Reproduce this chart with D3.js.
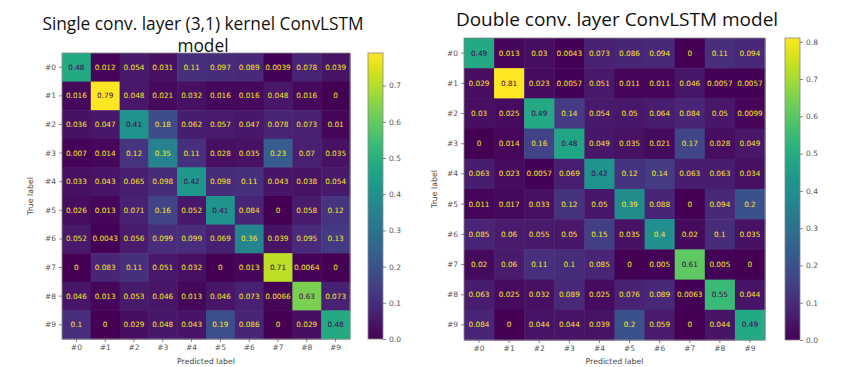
<!DOCTYPE html>
<html><head><meta charset="utf-8">
<script src="https://cdn.jsdelivr.net/npm/d3@7"></script>
<style>html,body{margin:0;padding:0;background:#fff;}svg{display:block;}</style>
</head><body>
<svg id="chart" width="846" height="367"></svg>
<script>
const classLabels = ["#0","#1","#2","#3","#4","#5","#6","#7","#8","#9"];
const titleLeft = ["Single conv. layer (3,1) kernel ConvLSTM", "model"];
const titleRight = ["Double conv. layer ConvLSTM model"];
const matrixLeft = [
  [0.48,0.012,0.054,0.031,0.11,0.097,0.089,0.0039,0.078,0.039],
  [0.016,0.79,0.048,0.021,0.032,0.016,0.016,0.048,0.016,0],
  [0.036,0.047,0.41,0.18,0.062,0.057,0.047,0.078,0.073,0.01],
  [0.007,0.014,0.12,0.35,0.11,0.028,0.035,0.23,0.07,0.035],
  [0.033,0.043,0.065,0.098,0.42,0.098,0.11,0.043,0.038,0.054],
  [0.026,0.013,0.071,0.16,0.052,0.41,0.084,0,0.058,0.12],
  [0.052,0.0043,0.056,0.099,0.099,0.069,0.36,0.039,0.095,0.13],
  [0,0.083,0.11,0.051,0.032,0,0.013,0.71,0.0064,0],
  [0.046,0.013,0.053,0.046,0.013,0.046,0.073,0.0066,0.63,0.073],
  [0.1,0,0.029,0.048,0.043,0.19,0.086,0,0.029,0.48]
];
const matrixRight = [
  [0.49,0.013,0.03,0.0043,0.073,0.086,0.094,0,0.11,0.094],
  [0.029,0.81,0.023,0.0057,0.051,0.011,0.011,0.046,0.0057,0.0057],
  [0.03,0.025,0.49,0.14,0.054,0.05,0.064,0.084,0.05,0.0099],
  [0,0.014,0.16,0.48,0.049,0.035,0.021,0.17,0.028,0.049],
  [0.063,0.023,0.0057,0.069,0.42,0.12,0.14,0.063,0.063,0.034],
  [0.011,0.017,0.033,0.12,0.05,0.39,0.088,0,0.094,0.2],
  [0.085,0.06,0.055,0.05,0.15,0.035,0.4,0.02,0.1,0.035],
  [0.02,0.06,0.11,0.1,0.085,0,0.005,0.61,0.005,0],
  [0.063,0.025,0.032,0.089,0.025,0.076,0.089,0.0063,0.55,0.044],
  [0.084,0,0.044,0.044,0.039,0.2,0.059,0,0.044,0.49]
];
const ticksLeft = [0,0.1,0.2,0.3,0.4,0.5,0.6,0.7];
const ticksRight = [0,0.1,0.2,0.3,0.4,0.5,0.6,0.7,0.8];

const svg = d3.select("#chart");
const tickColor = "#555";
const font = "DejaVu Sans, sans-serif";

function drawCM(opt) {
  const {data, x0, y0, w, h, cbX, cbW, ticks, title, titleY, titleX, titleSize, ylabX, xlabY} = opt;
  const vmax = d3.max(data.flat()), vmin = d3.min(data.flat());
  const color = v => d3.interpolateViridis((v - vmin) / (vmax - vmin));
  const thr = (vmax + vmin) / 2;
  const x = d3.scaleBand().domain(classLabels).range([x0, x0 + w]);
  const y = d3.scaleBand().domain(classLabels).range([y0, y0 + h]);
  const g = svg.append("g");
  const cells = [];
  data.forEach((row, i) => row.forEach((v, j) => cells.push({i, j, v})));
  g.selectAll("rect.cell").data(cells).join("rect")
    .attr("x", d => x(classLabels[d.j])).attr("y", d => y(classLabels[d.i]))
    .attr("width", x.bandwidth() + 0.5).attr("height", y.bandwidth() + 0.5)
    .attr("fill", d => color(d.v));
  g.selectAll("text.ann").data(cells).join("text")
    .attr("x", d => x(classLabels[d.j]) + x.bandwidth() / 2)
    .attr("y", d => y(classLabels[d.i]) + y.bandwidth() / 2)
    .attr("text-anchor", "middle").attr("dominant-baseline", "central")
    .attr("font-family", font).attr("font-size", 7.3)
    .attr("fill", d => d.v >= thr ? d3.interpolateViridis(0) : d3.interpolateViridis(1))
    .text(d => String(d.v));
  g.append("rect").attr("x", x0).attr("y", y0).attr("width", w).attr("height", h)
    .attr("fill", "none").attr("stroke", "#888").attr("stroke-width", 0.8);
  const ax = g.append("g").attr("transform", `translate(0,${y0 + h})`)
    .call(d3.axisBottom(x).tickSize(3).tickPadding(3));
  const ay = g.append("g").attr("transform", `translate(${x0},0)`)
    .call(d3.axisLeft(y).tickSize(3).tickPadding(3));
  [ax, ay].forEach(a => {
    a.select(".domain").remove();
    a.selectAll("line").attr("stroke", tickColor).attr("stroke-width", 0.7);
    a.selectAll("text").attr("font-family", font).attr("font-size", 7.5).attr("fill", tickColor);
  });
  g.append("text").attr("x", x0 + w / 2).attr("y", xlabY)
    .attr("text-anchor", "middle").attr("font-family", font).attr("font-size", 7.8)
    .attr("fill", "#444").text("Predicted label");
  g.append("text").attr("transform", `translate(${ylabX},${y0 + h / 2}) rotate(-90)`)
    .attr("text-anchor", "middle").attr("font-family", font).attr("font-size", 7.8)
    .attr("fill", "#444").text("True label");
  const cs = d3.scaleLinear().domain([vmin, vmax]).range([y0 + h, y0]);
  const gradId = "grad" + x0;
  const grad = svg.append("defs").append("linearGradient").attr("id", gradId)
    .attr("x1", 0).attr("y1", 1).attr("x2", 0).attr("y2", 0);
  d3.range(0, 1.0001, 0.05).forEach(t => grad.append("stop")
    .attr("offset", t).attr("stop-color", d3.interpolateViridis(t)));
  g.append("rect").attr("x", cbX).attr("y", y0).attr("width", cbW).attr("height", h)
    .attr("fill", `url(#${gradId})`).attr("stroke", "#888").attr("stroke-width", 0.8);
  const ac = g.append("g").attr("transform", `translate(${cbX + cbW},0)`)
    .call(d3.axisRight(cs).tickValues(ticks).tickFormat(d3.format(".1f")).tickSize(3).tickPadding(3));
  ac.select(".domain").remove();
  ac.selectAll("line").attr("stroke", tickColor).attr("stroke-width", 0.7);
  ac.selectAll("text").attr("font-family", font).attr("font-size", 7.5).attr("fill", tickColor);
  title.forEach((t, k) => {
    svg.append("text").attr("x", titleX).attr("y", titleY + k * 22)
      .attr("text-anchor", "middle").attr("font-family", "Open Sans, sans-serif")
      .attr("font-size", titleSize).attr("fill", "#111").text(t);
  });
}

drawCM({data: matrixLeft, x0: 62, y0: 53, w: 288, h: 286, cbX: 368, cbW: 15,
  ticks: ticksLeft, title: titleLeft, titleY: 30, titleX: 203, titleSize: 17.3, ylabX: 33, xlabY: 363.5});
drawCM({data: matrixRight, x0: 464, y0: 38, w: 301, h: 302, cbX: 785, cbW: 15,
  ticks: ticksRight, title: titleRight, titleY: 26, titleX: 617, titleSize: 19, ylabX: 437, xlabY: 363.5});
</script>
</body></html>
